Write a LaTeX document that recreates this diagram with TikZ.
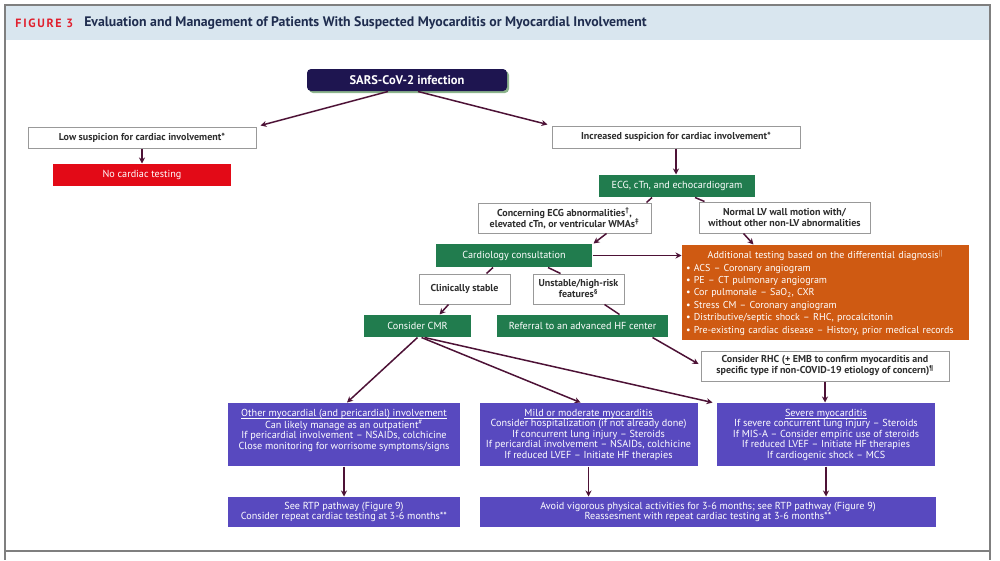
\documentclass[tikz,border=0pt]{standalone}
\usepackage{fontspec}
\setmainfont{PT Sans}
\usetikzlibrary{arrows.meta, shadows}
\definecolor{cband}{HTML}{D9E6EF}
\definecolor{cframe}{HTML}{7F7F7F}
\definecolor{cfig}{HTML}{E0202E}
\definecolor{ctitle}{HTML}{1F2D4F}
\definecolor{cnavy}{HTML}{1E1550}
\definecolor{cred}{HTML}{E30A17}
\definecolor{cgreen}{HTML}{217C4E}
\definecolor{corange}{HTML}{CF5A12}
\definecolor{cpurple}{HTML}{5849BF}
\definecolor{clink}{HTML}{4D1236}
\definecolor{ctext}{HTML}{2E2E2E}
\newcommand{\ulhead}[1]{\underline{\raisebox{0pt}[\height][0.6pt]{#1}}}
\tikzset{
  every picture/.style={font=\fontsize{10.2}{10.5}\selectfont, line width=1pt},
  plain/.style={draw=cframe!80, fill=white, align=center, inner sep=1pt, text=ctext, font=\fontsize{10}{11}\selectfont\bfseries},
  box/.style={fill=#1, text=white, align=center, inner sep=1pt},
  box/.default=cgreen,
  link/.style={draw=clink, line width=1.5pt},
  arrow/.style={link, -{Stealth[length=6pt, width=6pt]}},
}

\begin{document}
\begin{tikzpicture}[x=1pt, y=-1pt]
  \useasboundingbox (0,0) rectangle (1000,560);
  \fill[cband] (5,5) rectangle (990,40);
  \draw[cframe, line width=1.5pt] (5,5) rectangle (990,551);
  \draw[cframe, line width=1.5pt] (5,551) -- (5,560) (990,551) -- (990,560);
  \node[anchor=west, inner sep=0pt, text=cfig, font=\fontsize{12}{14}\selectfont\bfseries\addfontfeature{LetterSpace=14}] (fig) at (15,23) {FIGURE 3};
  \node[anchor=west, inner sep=0pt, text=ctitle, font=\fontsize{13.8}{15}\selectfont\bfseries] (title) at ([xshift=10pt]fig.east) {Evaluation and Management of Patients With Suspected Myocarditis or Myocardial Involvement};

  \node[box=cnavy, rounded corners=4pt, minimum width=200pt, minimum height=22pt, font=\fontsize{12.5}{14}\selectfont\bfseries,
        drop shadow={shadow xshift=2pt, shadow yshift=-2pt, fill=green!35!black, opacity=.45}] (sars) at (407,80) {SARS-CoV-2 infection};
  \node[plain, minimum width=228pt, minimum height=21pt] (low) at (142,137.5) {Low suspicion for cardiac involvement*};
  \node[box=cred, minimum width=178pt, minimum height=22pt] (none) at (142,175) {No cardiac testing};
  \node[plain, minimum width=248pt, minimum height=22pt] (incr) at (676,137) {Increased suspicion for cardiac involvement*};
  \node[box, minimum width=156pt, minimum height=22pt] (echo) at (677,186) {ECG, cTn, and echocardiogram};
  \node[plain, minimum width=173pt, minimum height=30pt] (ecgab) at (564.5,218) {Concerning ECG abnormalities\textsuperscript{\textdagger},\\ elevated cTn, or ventricular WMAs\textsuperscript{\textdaggerdbl}};
  \node[plain, minimum width=171pt, minimum height=31pt] (normal) at (784.5,217.5) {Normal LV wall motion with/\\ without other non-LV abnormalities};
  \node[box, minimum width=156pt, minimum height=23pt] (consult) at (514,255.5) {Cardiology consultation};
  \node[box=corange, text width=279pt, minimum height=95pt, inner sep=4pt, align=left, font=\fontsize{10}{12.4}\selectfont] (extra) at (825.5,292.5)
    {\makebox[279pt][c]{Additional testing based on the differential diagnosis\textsuperscript{\ensuremath{\|}}}\\
     \textbullet\ ACS -- Coronary angiogram\\
     \textbullet\ PE -- CT pulmonary angiogram\\
     \textbullet\ Cor pulmonale -- SaO\textsubscript{2}, CXR\\
     \textbullet\ Stress CM -- Coronary angiogram\\
     \textbullet\ Distributive/septic shock -- RHC, procalcitonin\\
     \textbullet\ Pre-existing cardiac disease -- History, prior medical records};
  \node[plain, minimum width=91pt, minimum height=30pt] (stable) at (464.5,289) {Clinically stable};
  \node[plain, minimum width=91pt, minimum height=30pt] (unstable) at (578.5,289) {Unstable/high-risk\\ features\textsuperscript{\S}};
  \node[box, minimum width=107pt, minimum height=22pt] (cmr) at (417.5,326) {Consider CMR};
  \node[box, minimum width=171pt, minimum height=22pt] (refer) at (582.5,326) {Referral to an advanced HF center};
  \node[plain, minimum width=248pt, minimum height=30pt] (rhc) at (825,366) {Consider RHC (\underline{+} EMB to confirm myocarditis and\\ specific type if non-COVID-19 etiology of concern)\textsuperscript{\P}};
  \node[box=cpurple, minimum width=232pt, minimum height=63pt] (other) at (344,434.5)
    {\ulhead{Other myocardial (and pericardial) involvement}\\ Can likely manage as an outpatient\textsuperscript{\#}\\ If pericardial involvement -- NSAIDs, colchicine\\ Close monitoring for worrisome symptoms/signs\\ \mbox{}};
  \node[box=cpurple, minimum width=218pt, minimum height=63pt] (mild) at (588.5,434.5)
    {\ulhead{Mild or moderate myocarditis}\\ Consider hospitalization (if not already done)\\ If concurrent lung injury -- Steroids\\ If pericardial involvement -- NSAIDs, colchicine\\ If reduced LVEF -- Initiate HF therapies};
  \node[box=cpurple, minimum width=218pt, minimum height=63pt] (severe) at (826,434.5)
    {\ulhead{Severe myocarditis}\\ If severe concurrent lung injury -- Steroids\\ If MIS-A -- Consider empiric use of steroids\\ If reduced LVEF -- Initiate HF therapies\\ If cardiogenic shock -- MCS};
  \node[box=cpurple, minimum width=232pt, minimum height=30pt] (rtp) at (344,512) {See RTP pathway (Figure 9)\\ Consider repeat cardiac testing at 3-6 months**};
  \node[box=cpurple, minimum width=456pt, minimum height=30pt] (avoid) at (708,512) {Avoid vigorous physical activities for 3-6 months; see RTP pathway (Figure 9)\\ Reassesment with repeat cardiac testing at 3-6 months**};

  \draw[arrow] ([xshift=-19pt]sars.south) -- ([xshift=4pt,yshift=1pt]low.north east);
  \draw[arrow] ([xshift=11pt]sars.south) -- ([xshift=-4pt,yshift=1pt]incr.north west);
  \draw[arrow] (low) -- (none);
  \draw[arrow] (incr) -- (incr.south |- echo.north);
  \draw[link] ([xshift=-25pt]echo.south) -- ([xshift=82pt]ecgab.north);
  \draw[link] ([xshift=18pt]echo.south) -- ([xshift=-80pt]normal.north);
  \draw[arrow] ([xshift=42pt]ecgab.south) -- ([xshift=1pt]consult.north east);
  \draw[arrow] ([xshift=-41pt]normal.south) -- ([xshift=-72pt]extra.north);
  \draw[arrow] (consult.east) -- (consult.east -| extra.west);
  \draw[link] ([xshift=-21pt]consult.south) -- ([xshift=22pt]stable.north);
  \draw[link] ([xshift=34pt]consult.south) -- ([xshift=-18pt]unstable.north);
  \draw[arrow] ([xshift=-16pt]stable.south) -- ([xshift=22pt]cmr.north);
  \draw[link] ([xshift=26pt]unstable.south) -- ([xshift=37pt]refer.north);
  \draw[arrow] ([xshift=70pt]refer.south) -- ([xshift=-2pt,yshift=2pt]rhc.west);
  \draw[arrow] (cmr.south) -- ([xshift=3pt]other.north);
  \draw[arrow] ([xshift=4pt]cmr.south) -- ([xshift=-8pt]mild.north);
  \draw[arrow] ([xshift=7pt]cmr.south) -- ([xshift=-4pt]severe.north west);
  \draw[arrow] (rhc.south) -- (rhc.south |- severe.north);
  \draw[arrow] (other) -- (rtp);
  \draw[arrow] (mild.south) -- (mild.south |- avoid.north);
  \draw[arrow] (severe.south) -- (severe.south |- avoid.north);
\end{tikzpicture}
\end{document}
